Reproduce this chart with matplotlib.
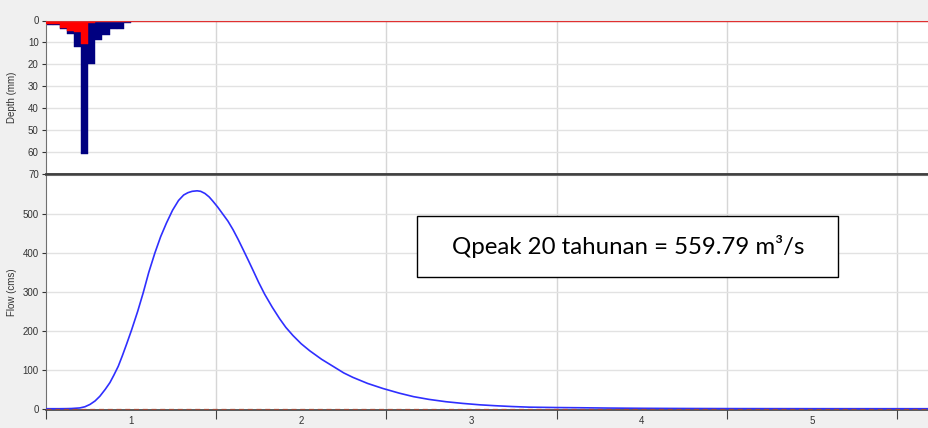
import matplotlib
matplotlib.use("Agg")
import matplotlib.pyplot as plt
from matplotlib.patches import Rectangle

# ---------------- data ----------------
# hourly precipitation (mm) and loss (mm), first 12 hours
hour_start_days = [h / 24 for h in range(12)]
precip_mm = [2.0, 2.0, 3.8, 6.3, 12.0, 61.0, 20.0, 9.0, 6.5, 3.8, 3.8, 1.2]
loss_mm = [1.8, 1.8, 3.2, 4.8, 5.2, 10.5, 1.0, 0.0, 0.0, 0.0, 0.0, 0.0]

# outflow hydrograph (time in days, flow in cms)
time_days = [0.0, 0.08, 0.12, 0.15, 0.2, 0.23, 0.26, 0.29, 0.318, 0.35,
             0.377, 0.40, 0.426, 0.45, 0.475, 0.504, 0.54, 0.572, 0.605,
             0.641, 0.675, 0.709, 0.745, 0.78, 0.81, 0.835, 0.86, 0.889,
             0.91, 0.935, 0.96, 0.982, 1.01, 1.04, 1.07, 1.10, 1.13, 1.158,
             1.19, 1.217, 1.25, 1.286, 1.33, 1.374, 1.41, 1.452, 1.50, 1.55,
             1.62, 1.687, 1.75, 1.804, 1.89, 1.98, 2.076, 2.16, 2.25, 2.35,
             2.45, 2.55, 2.64, 2.74, 2.84, 3.0, 3.13, 3.3, 3.52, 3.75, 4.0,
             4.5, 5.2]
flow_cms = [0, 0, 0.2, 0.5, 2, 5, 11, 20, 32, 50,
            67, 86, 109, 136, 166, 202, 250, 297, 350,
            400, 442, 477, 510, 535, 549, 555, 558.5, 559.8,
            558.5, 553, 544, 533, 518, 500, 482, 460, 435, 410,
            381, 356, 325, 294, 261, 231, 209, 188, 167, 149,
            127, 109, 92, 80.5, 65, 52, 40, 31, 24, 18,
            13.6, 10, 7.7, 5.6, 4, 3, 2.5, 1.7, 1, 0.6, 0.3,
            0.1, 0]

day_ticks = [0, 1, 2, 3, 4, 5]
day_label_pos = [0.5, 1.5, 2.5, 3.5, 4.5]
day_labels = ["1", "2", "3", "4", "5"]
depth_ticks = [0, 10, 20, 30, 40, 50, 60, 70]
flow_ticks = [0, 100, 200, 300, 400, 500]
annotation = "Qpeak 20 tahunan = 559.79 m³/s"

# ---------------- figure ----------------
W, H = 929, 428
fig = plt.figure(figsize=(W / 100, H / 100), dpi=100, facecolor="#f0f0f0")

left = 45.7 / W
width = 1 - left
top_y0, top_y1 = 20.5, 174.0
bot_y0, bot_y1 = 174.0, 409.5
ax1 = fig.add_axes([left, 1 - top_y1 / H, width, (top_y1 - top_y0) / H])
ax2 = fig.add_axes([left, 1 - bot_y1 / H, width, (bot_y1 - bot_y0) / H])

xmax = (W - 45.7) / 170.3
grid_kw = dict(color="#e2e2e2", lw=1.0, zorder=0)
vgrid_kw = dict(color="#d6d6d6", lw=1.0, zorder=0)
tick_color = "#333333"
font = "Liberation Sans"

for ax in (ax1, ax2):
    ax.set_facecolor("white")
    ax.set_xlim(0, xmax)
    for d in day_ticks[1:]:
        ax.axvline(d, **vgrid_kw)
    ax.spines["right"].set_visible(False)
    ax.spines["left"].set_color("#707070")
    ax.tick_params(axis="y", length=3, width=0.8, pad=2, colors=tick_color,
                   labelsize=7)

# ---- top: precipitation ----
ax1.set_ylim(70, 0)
for v in depth_ticks[1:-1]:
    ax1.axhline(v, **grid_kw)
ax1.bar(hour_start_days, precip_mm, width=1 / 24, align="edge",
        color="#000080", edgecolor="#000080", lw=0.3, zorder=2)
ax1.bar(hour_start_days, loss_mm, width=1 / 24, align="edge",
        color="#ff0000", edgecolor="#ff0000", lw=0.3, zorder=3)
ax1.axhline(0, color="#e03030", lw=1.0, zorder=4)
ax1.set_yticks(depth_ticks)
ax1.set_yticklabels([str(v) for v in depth_ticks], fontfamily=font)
ax1.set_xticks([])
ax1.spines["top"].set_color("#b0b0b0")
ax1.spines["bottom"].set_color("#404040")
ax1.spines["bottom"].set_linewidth(1.8)
ax1.set_ylabel("Depth (mm)", fontsize=7, fontfamily=font, color=tick_color)

# ---- bottom: flow ----
ax2.set_ylim(-2, 603)
for v in flow_ticks[1:] + [600]:
    ax2.axhline(v, **grid_kw)
ax2.plot(time_days, flow_cms, color="#2f2fff", lw=1.2, zorder=3)
ax2.axhline(0, color="#9a4a3a", lw=0.9, ls=(0, (4, 3)), zorder=4)
ax2.set_yticks(flow_ticks)
ax2.set_yticklabels([str(v) for v in flow_ticks], fontfamily=font)
ax2.spines["top"].set_color("#404040")
ax2.spines["top"].set_linewidth(1.8)
ax2.spines["bottom"].set_color("#404040")
ax2.spines["bottom"].set_linewidth(1.2)
ax2.set_xticks(day_ticks)
ax2.set_xticklabels([])
ax2.tick_params(axis="x", which="major", length=6.5, width=0.8,
                colors="#404040", direction="out")
ax2.set_xticks(day_label_pos, minor=True)
ax2.set_xticklabels(day_labels, minor=True, fontsize=7, fontfamily=font,
                    color=tick_color)
ax2.tick_params(axis="x", which="minor", length=0, pad=4.5)
ax2.set_ylabel("Flow (cms)", fontsize=7, fontfamily=font, color=tick_color)

# align y labels horizontally
lab_x = -28.5 / (W * width)
ax1.yaxis.set_label_coords(lab_x, 0.5)
ax2.yaxis.set_label_coords(lab_x, 0.5)

# ---- annotation box ----
bx0, bx1, by0, by1 = 417.5, 838, 215.5, 276.5
fig.patches.append(Rectangle((bx0 / W, 1 - by1 / H), (bx1 - bx0) / W,
                             (by1 - by0) / H, transform=fig.transFigure,
                             facecolor="white", edgecolor="black", lw=1.0,
                             zorder=10))
fig.text((bx0 + bx1) / 2 / W, 1 - (by0 + by1) / 2 / H, annotation,
         ha="center", va="center", fontsize=17.3, fontfamily="Lato",
         color="black", zorder=11)

fig.savefig("out.png", dpi=100, facecolor=fig.get_facecolor())
